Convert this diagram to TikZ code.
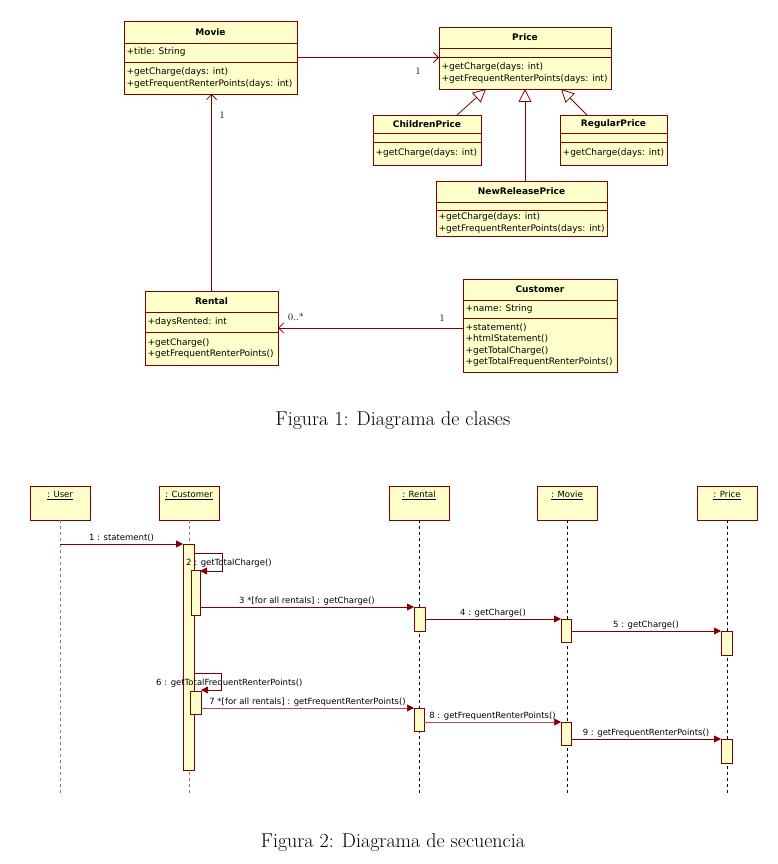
\documentclass[tikz,border=0pt]{standalone}
\usepackage{fontspec}
\newfontfamily\umlfont{DejaVu Sans}
\usetikzlibrary{arrows.meta}
\definecolor{umlred}{RGB}{128,0,0}
\definecolor{umllight}{RGB}{176,80,80}
\definecolor{umlfill}{RGB}{255,255,204}
\begin{document}
\begin{tikzpicture}[x=1pt,y=-1pt,
  cls/.style={draw=umlred, fill=umlfill, line width=0.8pt, anchor=north west, inner sep=0pt, outer sep=0pt},
  div/.style={draw=umlred, line width=0.8pt},
  ctitle/.style={font=\umlfont\fontsize{9}{11}\selectfont\bfseries, inner sep=0pt},
  cbody/.style={font=\umlfont\fontsize{9}{11.5}\selectfont, anchor=west, align=left, inner sep=0pt, xshift=2.5pt},
  mult/.style={font=\fontsize{10}{11}\selectfont, inner sep=0pt},
  assoc/.style={draw=umlred, line width=0.8pt, -{Straight Barb[length=5pt,width=10pt]}},
  gen/.style={draw=umlred, line width=0.8pt, -{Triangle[open,length=13pt,width=13pt]}},
  head/.style={draw=umlred, fill=umlfill, line width=0.8pt, anchor=north west, inner sep=0pt, outer sep=0pt, minimum width=60pt, minimum height=34pt},
  headlbl/.style={font=\umlfont\fontsize{8.5}{10}\selectfont, inner sep=0pt},
  life/.style={draw=black, line width=0.7pt, dash pattern=on 3pt off 3pt},
  lifeg/.style={draw=gray, line width=0.7pt, dash pattern=on 3pt off 3pt},
  bar/.style={draw=umlred, fill=umlfill, line width=0.8pt, anchor=north west, inner sep=0pt, outer sep=0pt},
  msg/.style={draw=umlred, line width=0.8pt, -{Triangle[length=7pt,width=7pt]}},
  msgl/.style={draw=umllight, line width=0.6pt, -{Triangle[length=7pt,width=7pt,color=umlred]}},
  mlbl/.style={font=\umlfont\fontsize{8.5}{10}\selectfont, inner sep=1.5pt, anchor=south},
  caption/.style={font=\fontsize{20}{22}\selectfont, inner sep=0pt}
]
\useasboundingbox (0,0) rectangle (777,864);
\fill[white] (0,0) rectangle (777,864);

% ---------------- Class diagram ----------------
% Movie
\node[cls, minimum width=173pt, minimum height=73pt] (movie) at (124,21) {};
\draw[div] (movie.west |- 0,43) -- (movie.east |- 0,43);
\draw[div] (movie.west |- 0,62) -- (movie.east |- 0,62);
\node[ctitle] at (movie.north |- 0,32) {Movie};
\node[cbody] at (movie.west |- 0,52.5) {+title: String};
\node[cbody] at (movie.west |- 0,78) {+getCharge(days: int)\\+getFrequentRenterPoints(days: int)};

% Price
\node[cls, minimum width=172pt, minimum height=62pt] (price) at (439,27) {};
\draw[div] (price.west |- 0,48) -- (price.east |- 0,48);
\draw[div] (price.west |- 0,57) -- (price.east |- 0,57);
\node[ctitle] at (price.north |- 0,37.5) {Price};
\node[cbody] at (price.west |- 0,73) {+getCharge(days: int)\\+getFrequentRenterPoints(days: int)};

% ChildrenPrice
\node[cls, minimum width=108pt, minimum height=50pt] (children) at (373,115) {};
\draw[div] (children.west |- 0,133) -- (children.east |- 0,133);
\draw[div] (children.west |- 0,142) -- (children.east |- 0,142);
\node[ctitle] at (children.north |- 0,124) {ChildrenPrice};
\node[cbody] at (children.west |- 0,153.5) {+getCharge(days: int)};

% RegularPrice
\node[cls, minimum width=107pt, minimum height=50pt] (regular) at (560,115) {};
\draw[div] (regular.west |- 0,133) -- (regular.east |- 0,133);
\draw[div] (regular.west |- 0,142) -- (regular.east |- 0,142);
\node[ctitle] at (regular.north |- 0,124) {RegularPrice};
\node[cbody] at (regular.west |- 0,153.5) {+getCharge(days: int)};

% NewReleasePrice
\node[cls, minimum width=171pt, minimum height=55pt] (newrel) at (436,181) {};
\draw[div] (newrel.west |- 0,202) -- (newrel.east |- 0,202);
\draw[div] (newrel.west |- 0,210) -- (newrel.east |- 0,210);
\node[ctitle] at (newrel.north |- 0,191.5) {NewReleasePrice};
\node[cbody] at (newrel.west |- 0,223) {+getCharge(days: int)\\+getFrequentRenterPoints(days: int)};

% Rental
\node[cls, minimum width=133pt, minimum height=74pt] (rental) at (145,291) {};
\draw[div] (rental.west |- 0,312) -- (rental.east |- 0,312);
\draw[div] (rental.west |- 0,332) -- (rental.east |- 0,332);
\node[ctitle] at (rental.north |- 0,301.5) {Rental};
\node[cbody] at (rental.west |- 0,322) {+daysRented: int};
\node[cbody] at (rental.west |- 0,348.5) {+getCharge()\\+getFrequentRenterPoints()};

% Customer
\node[cls, minimum width=154pt, minimum height=93pt] (customer) at (463,279) {};
\draw[div] (customer.west |- 0,300) -- (customer.east |- 0,300);
\draw[div] (customer.west |- 0,318) -- (customer.east |- 0,318);
\node[ctitle] at (customer.north |- 0,289.5) {Customer};
\node[cbody] at (customer.west |- 0,309) {+name: String};
\node[cbody] at (customer.west |- 0,345) {+statement()\\+htmlStatement()\\+getTotalCharge()\\+getTotalFrequentRenterPoints()};

% associations
\draw[assoc] (movie.east) -- (movie.east -| price.west);
\node[mult] at (418,71) {1};
\draw[assoc] (rental.north) -- (rental.north |- movie.south);
\node[mult] at (222,115) {1};
\draw[assoc] (customer.west |- rental.east) -- (rental.east);
\node[mult] at (296,317) {0..*};
\node[mult] at (442,318) {1};

% generalizations
\draw[gen] ([xshift=84pt]children.north west) -- ([xshift=47pt]price.south west);
\draw[gen] (newrel.north -| price.south) -- (price.south);
\draw[gen] ([xshift=27pt]regular.north west) -- ([xshift=122pt]price.south west);

\node[caption] (cap1) at (393,421) {Figura 1: Diagrama de clases};

% ---------------- Sequence diagram ----------------
\node[head] (user) at (30,486) {};
\node[head] (cust) at (159,486) {};
\node[head] (rent) at (389,486) {};
\node[head] (mov) at (537,486) {};
\node[head] (pri) at (697,486) {};
\node[headlbl] at ([yshift=-9.5pt]user.north) {\underline{: User}};
\node[headlbl] at ([yshift=-9.5pt]cust.north) {\underline{: Customer}};
\node[headlbl] at ([yshift=-9.5pt]rent.north) {\underline{: Rental}};
\node[headlbl] at ([yshift=-9.5pt]mov.north) {\underline{: Movie}};
\node[headlbl] at ([yshift=-9.5pt]pri.north) {\underline{: Price}};

\coordinate (uend) at (user.south |- 0,795);
\coordinate (cend) at (cust.south |- 0,795);
\coordinate (rend) at (rent.south |- 0,795);
\coordinate (mend) at (mov.south |- 0,795);
\coordinate (pend) at (pri.south |- 0,795);
\draw[lifeg] (user.south) -- (uend);
\draw[lifeg] (cust.south) -- (cend);
\draw[life] (rent.south) -- (rend);
\draw[life] (mov.south) -- (mend);
\draw[life] (pri.south) -- (pend);

% activation bars
\node[bar, minimum width=11pt, minimum height=226pt] (cmain) at (183,544) {};
\node[bar, minimum width=9pt, minimum height=45pt] (c2) at (191,570) {};
\node[bar, minimum width=11pt, minimum height=23pt] (c6) at (190,691) {};
\node[bar, minimum width=11pt, minimum height=24pt] (r1) at (414,607) {};
\node[bar, minimum width=10pt, minimum height=23pt] (m1) at (561,619) {};
\node[bar, minimum width=11pt, minimum height=24pt] (p1) at (721,631) {};
\node[bar, minimum width=10pt, minimum height=23pt] (r2) at (414,708) {};
\node[bar, minimum width=10pt, minimum height=23pt] (m2) at (561,722) {};
\node[bar, minimum width=11pt, minimum height=24pt] (p2) at (721,739) {};

% messages
\draw[msg] (user.south |- cmain.north) -- node[mlbl] {1 : statement()} (cmain.north west);
\draw[msg] (cmain.east |- 0,553) -- (222,553) |- ([yshift=-1pt]c2.north east);
\node[mlbl, anchor=west, inner sep=0pt] at (186,563) {2 : getTotalCharge()};
\draw[msg] (c2.east |- r1.north) -- node[mlbl] {3 *[for all rentals] : getCharge()} (r1.north west);
\draw[msg] (r1.east |- m1.north) -- node[mlbl] {4 : getCharge()} (m1.north west);
\draw[msg] (m1.east |- p1.north) -- node[mlbl] {5 : getCharge()} (p1.north west);
\draw[msg] (cmain.east |- 0,673) -- (221,673) |- ([yshift=1pt]c6.north east);
\node[mlbl, anchor=west, inner sep=0pt] at (156,683) {6 : getTotalFrequentRenterPoints()};
\draw[msgl] (c6.east |- r2.north) -- node[mlbl] {7 *[for all rentals] : getFrequentRenterPoints()} (r2.north west);
\draw[msgl] (r2.east |- m2.north) -- node[mlbl] {8 : getFrequentRenterPoints()} (m2.north west);
\draw[msg] (m2.east |- p2.north) -- node[mlbl] {9 : getFrequentRenterPoints()} (p2.north west);

\node[caption] (cap2) at (393,843) {Figura 2: Diagrama de secuencia};
\end{tikzpicture}
\end{document}
